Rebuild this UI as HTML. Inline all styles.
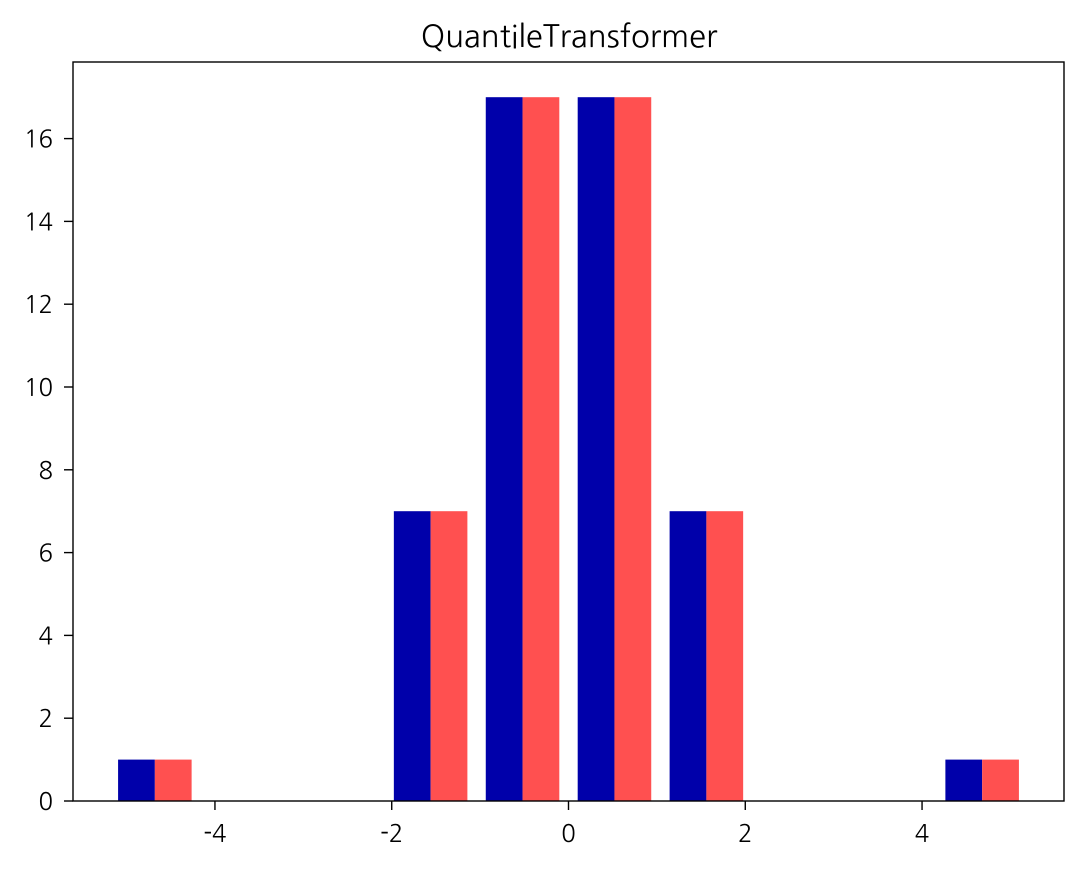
<!DOCTYPE html>
<html><head><meta charset="utf-8"><style>
html,body{margin:0;padding:0;background:#fff;}
svg text{font-family:"NanumGothic","Liberation Sans",sans-serif;fill:#000;}
</style></head><body>
<svg id="chart" width="1085" height="866" xmlns="http://www.w3.org/2000/svg">
<text x="569" y="47" font-size="31" text-anchor="middle">QuantileTransformer</text>
<g id="bars"></g>
<g id="ticks"></g>
<rect x="73" y="62" width="991" height="739" fill="none" stroke="#000" stroke-width="1.4"/>
</svg>
<script>
const binEdgesStart = -5.2;
const binWidth = 1.04;
const seriesA = [1,0,0,7,17,17,7,0,0,1];
const seriesB = [1,0,0,7,17,17,7,0,0,1];
const xTicks = [-4,-2,0,2,4];
const yTicks = [0,2,4,6,8,10,12,14,16];
const X0=73,X1=1064,Y0=801,Y1=62;
const xmin=-5.606,xmax=5.606,ymin=0,ymax=17.85;
function sx(v){return X0+(v-xmin)/(xmax-xmin)*(X1-X0);}
function sy(v){return Y0-(v-ymin)/(ymax-ymin)*(Y0-Y1);}
const NS="http://www.w3.org/2000/svg";
const bars=document.getElementById('bars');
function bar(l,r,v,c,name){
  const el=document.createElementNS(NS,'rect');
  el.setAttribute('x',sx(l));el.setAttribute('width',sx(r)-sx(l));
  el.setAttribute('y',sy(v));el.setAttribute('height',sy(0)-sy(v));
  el.setAttribute('fill',c);
  
  
  bars.appendChild(el);
}
seriesA.forEach((v,i)=>{const s=binEdgesStart+i*binWidth;bar(s+0.1*binWidth,s+0.5*binWidth,v,'#0000AA','bar-series-a-'+i);});
seriesB.forEach((v,i)=>{const s=binEdgesStart+i*binWidth;bar(s+0.5*binWidth,s+0.9*binWidth,v,'#FF5050','bar-series-b-'+i);});
const ticks=document.getElementById('ticks');
xTicks.forEach(t=>{
  const x=sx(t);
  const l=document.createElementNS(NS,'line');
  l.setAttribute('x1',x);l.setAttribute('x2',x);l.setAttribute('y1',Y0);l.setAttribute('y2',Y0+9);l.setAttribute('stroke','#000');l.setAttribute('stroke-width','1.4');
  
  
  ticks.appendChild(l);
  const tx=document.createElementNS(NS,'text');
  tx.setAttribute('x',x);tx.setAttribute('y',Y0+41);tx.setAttribute('font-size','24');tx.setAttribute('text-anchor','middle');
  tx.textContent=t<0?'-'+Math.abs(t):String(t);
  
  
  ticks.appendChild(tx);
});
yTicks.forEach(t=>{
  const y=sy(t);
  const l=document.createElementNS(NS,'line');
  l.setAttribute('x1',X0-9);l.setAttribute('x2',X0);l.setAttribute('y1',y);l.setAttribute('y2',y);l.setAttribute('stroke','#000');l.setAttribute('stroke-width','1.4');
  
  
  ticks.appendChild(l);
  const tx=document.createElementNS(NS,'text');
  tx.setAttribute('x',X0-20);tx.setAttribute('y',y+9);tx.setAttribute('font-size','24');tx.setAttribute('text-anchor','end');
  tx.textContent=String(t);
  
  
  ticks.appendChild(tx);
});
</script>
</body></html>
